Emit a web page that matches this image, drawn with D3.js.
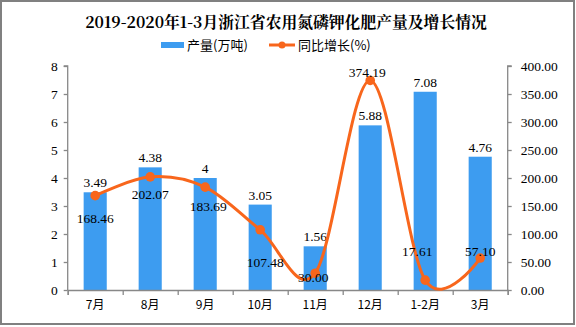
<!DOCTYPE html>
<html><head><meta charset="utf-8">
<script src="https://cdn.jsdelivr.net/npm/d3@7"></script>
<style>body{margin:0;background:#fff}svg{display:block}</style>
</head><body>
<svg id="c" width="576" height="327"></svg>
<script>
const title = "2019-2020年1-3月浙江省农用氮磷钾化肥产量及增长情况";
const categories = ["7月","8月","9月","10月","11月","12月","1-2月","3月"];
const output = [3.49, 4.38, 4, 3.05, 1.56, 5.88, 7.08, 4.76];
const outputLabels = ["3.49","4.38","4","3.05","1.56","5.88","7.08","4.76"];
const growth = [168.46, 202.07, 183.69, 107.48, 30.00, 374.19, 17.61, 57.10];
const growthLabels = ["168.46","202.07","183.69","107.48","30.00","374.19","17.61","57.10"];
const leftTicks = [0,1,2,3,4,5,6,7,8];
const rightTicks = [0,50,100,150,200,250,300,350,400];
// label placement (dx, dy from the point)
const growthLabelOffset = [[0,22],[0,17],[3,19],[5,32],[-2,4],[-3,-8],[-8,-29],[0,-7]];

(function(){
const svg = d3.select("#c");
const W = 576, H = 327;
const pL = 67.7, pR = 507.7, pT = 66, pB = 290;
const blue = "#3d9cf0", orange = "#f8661c";
const numFont = "'Liberation Serif', serif";
const cjkFont = "'Noto Sans CJK SC', sans-serif";

svg.append("rect").attr("x",1).attr("y",1).attr("width",W-3).attr("height",H-4)
  .attr("fill","#fff").attr("stroke","#808080").attr("stroke-width",2);

svg.append("text").attr("x",286).attr("y",28).attr("text-anchor","middle")
  .attr("font-family","'Noto Serif CJK SC','Noto Sans CJK SC',serif").attr("font-weight","bold")
  .attr("font-size",15.8).attr("fill","#000").text(title);

// legend
const lg = svg.append("g");
lg.append("rect").attr("x",161).attr("y",42).attr("width",23).attr("height",6).attr("fill",blue);
lg.append("text").attr("x",187).attr("y",50).attr("font-family",cjkFont).attr("font-size",13).text("产量(万吨)");
lg.append("line").attr("x1",269).attr("x2",295).attr("y1",45).attr("y2",45).attr("stroke",orange).attr("stroke-width",3);
lg.append("circle").attr("cx",282).attr("cy",45).attr("r",3.5).attr("fill",orange);
lg.append("text").attr("x",298).attr("y",50).attr("font-family",cjkFont).attr("font-size",13).text("同比增长(%)");

const x = d3.scaleBand().domain(categories).range([pL,pR]).paddingInner(0.58).paddingOuter(0.29);
const xc = d3.scalePoint().domain(categories).range([pL,pR]).padding(0.5);
const yL = d3.scaleLinear().domain([0,8]).range([pB,pT]);
const yR = d3.scaleLinear().domain([0,400]).range([pB,pT]);

// bars
svg.append("g").selectAll("rect").data(output).join("rect")
  .attr("x",(d,i)=>x(categories[i])).attr("width",x.bandwidth())
  .attr("y",d=>yL(d)).attr("height",d=>pB-yL(d)).attr("fill",blue);

// axes
const axisColor = "#888";
const gL = svg.append("g").attr("transform",`translate(${pL},0)`)
  .call(d3.axisLeft(yL).tickValues(leftTicks).tickSize(4).tickPadding(6).tickFormat(d3.format("d")));
const gR = svg.append("g").attr("transform",`translate(${pR},0)`)
  .call(d3.axisRight(yR).tickValues(rightTicks).tickSize(4).tickPadding(9).tickFormat(d3.format(".2f")));
const xb = d3.scaleLinear().domain([0,categories.length]).range([pL,pR]);
const gX = svg.append("g").attr("transform",`translate(0,${pB})`)
  .call(d3.axisBottom(xb).tickValues(d3.range(0,categories.length+1)).tickSize(5).tickFormat(""));
[gL,gR,gX].forEach(g=>{
  g.select(".domain").attr("stroke",axisColor).attr("stroke-width",1.3);
  g.selectAll(".tick line").attr("stroke",axisColor).attr("stroke-width",1.3);
  g.selectAll("text").attr("font-family",numFont).attr("font-size",13.5).attr("fill","#000");
});
gL.select(".domain").attr("d",`M-4,${pT}H0V${pB}`);
gR.select(".domain").attr("d",`M4,${pT}H0V${pB}`);
svg.append("g").selectAll("text").data(categories).join("text")
  .attr("x",d=>xc(d)).attr("y",pB+19).attr("text-anchor","middle")
  .attr("font-family",cjkFont).attr("font-size",12).attr("fill","#000").text(d=>d);

// bar labels
svg.append("g").selectAll("text").data(output).join("text")
  .attr("x",(d,i)=>xc(categories[i])).attr("y",d=>yL(d)-5).attr("text-anchor","middle")
  .attr("font-family",numFont).attr("font-size",13.5).attr("fill","#000")
  .text((d,i)=>outputLabels[i]);

// line
const line = d3.line().x((d,i)=>xc(categories[i])).y(d=>yR(d)).curve(d3.curveCatmullRom.alpha(0));
svg.append("path").datum(growth).attr("d",line).attr("fill","none")
  .attr("stroke",orange).attr("stroke-width",3);
svg.append("g").selectAll("circle").data(growth).join("circle")
  .attr("cx",(d,i)=>xc(categories[i])).attr("cy",d=>yR(d)).attr("r",4.8).attr("fill",orange);
svg.append("g").selectAll("text").data(growth).join("text")
  .attr("x",(d,i)=>xc(categories[i])+growthLabelOffset[i][0])
  .attr("y",(d,i)=>yR(d)+growthLabelOffset[i][1]+5).attr("text-anchor","middle")
  .attr("font-family",numFont).attr("font-size",13.5).attr("fill","#000")
  .text((d,i)=>growthLabels[i]);
})();
</script>
</body></html>
